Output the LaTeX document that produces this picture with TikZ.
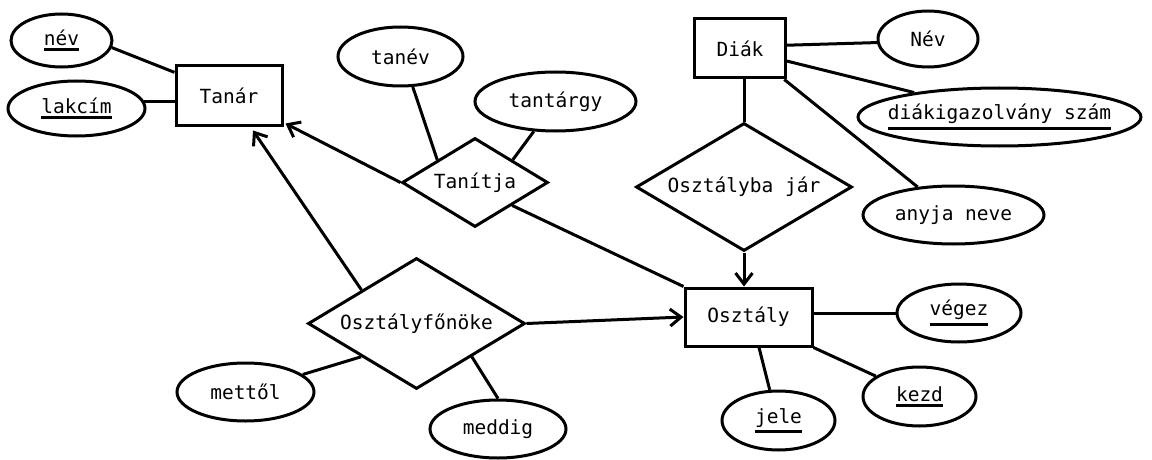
\documentclass[tikz,border=0pt]{standalone}
\usepackage{fontspec}
\setmainfont{DejaVu Sans Mono}
\usetikzlibrary{shapes.geometric,arrows.meta}
\newcommand\keyattr[1]{\vtop{\hbox{#1}\kern2.5pt\hrule height 3pt}}
\begin{document}
\begin{tikzpicture}[x=1pt,y=-1pt,line width=3pt,
 every node/.style={font=\fontsize{19.5pt}{23pt}\selectfont},
 ent/.style={draw,rectangle,inner sep=0pt},
 attr/.style={draw,ellipse,inner sep=0pt},
 rel/.style={draw,diamond,inner sep=0pt},
 arr/.style={-{Straight Barb[length=11pt,width=17pt]}},
]
\useasboundingbox (0,0) rectangle (1152,460);
% entities
\node[ent,minimum width=106pt,minimum height=59pt,label=center:Tanár] (tanar) at (229,95.5) {};
\node[ent,minimum width=91pt,minimum height=59pt,label=center:Diák] (diak) at (740,48.5) {};
\node[ent,minimum width=127pt,minimum height=58pt,label=center:Osztály] (osztaly) at (748.5,317) {};
% relationships
\node[rel,minimum width=146pt,minimum height=89pt,label=center:Tanítja] (tanitja) at (475,182.5) {};
\node[rel,minimum width=216pt,minimum height=128pt,label=center:Osztályba jár] (oj) at (744,187) {};
\node[rel,minimum width=217pt,minimum height=131pt,label=center:Osztályfőnöke] (ofo) at (416.5,323.5) {};
% attributes
\node[attr,minimum width=101pt,minimum height=53pt,label=center:{\keyattr{név}}] (nev) at (61.5,40.5) {};
\node[attr,minimum width=137pt,minimum height=55pt,label=center:{\keyattr{lakcím}}] (lakcim) at (76.5,108.5) {};
\node[attr,minimum width=125pt,minimum height=59pt,label=center:tanév] (tanev) at (400.5,56.5) {};
\node[attr,minimum width=161pt,minimum height=59pt,label=center:tantárgy] (tantargy) at (555.5,101.5) {};
\node[attr,minimum width=100pt,minimum height=56pt,label=center:Név] (nev2) at (928,39) {};
\node[attr,minimum width=283pt,minimum height=58pt,label=center:{\keyattr{diákigazolvány szám}}] (dig) at (999.5,117) {};
\node[attr,minimum width=181pt,minimum height=58pt,label=center:anyja neve] (anyja) at (953.5,215) {};
\node[attr,minimum width=124pt,minimum height=58pt,label=center:{\keyattr{végez}}] (vegez) at (959,313) {};
\node[attr,minimum width=113pt,minimum height=59pt,label=center:{\keyattr{kezd}}] (kezd) at (919.5,396.5) {};
\node[attr,minimum width=113pt,minimum height=59pt,label=center:{\keyattr{jele}}] (jele) at (778.5,420.5) {};
\node[attr,minimum width=137pt,minimum height=58pt,label=center:mettől] (mettol) at (245.5,392) {};
\node[attr,minimum width=136pt,minimum height=58pt,label=center:meddig] (meddig) at (498,429) {};
% connectors
\draw (nev.-8) -- (tanar.157);
\draw (lakcim.6) -- (lakcim.6 -| tanar.west);
\draw (tanev.-68) -- (tanitja.149);
\draw (tantargy.-126) -- (tanitja.31);
\draw[arr] (tanitja.west) -- ([xshift=2pt,yshift=3pt]tanar.south east);
\draw (tanitja.south east) -- (osztaly.north west);
\draw (diak.4) -- (nev2.184);
\draw (diak.-15) -- (dig.164);
\draw (diak.-35) -- (anyja.142);
\draw (oj.north) -- (oj.north |- diak.south);
\draw[arr] (oj.south) -- (oj.south |- osztaly.north);
\draw (vegez.west -| osztaly.east) -- (vegez.west);
\draw (osztaly.south east) -- (kezd.155);
\draw (osztaly.-71) -- (jele.106);
\draw[arr] (ofo.east) -- (osztaly.west);
\draw[arr] (ofo.north west) -- ([xshift=24pt,yshift=-4pt]tanar.south);
\draw (mettol.17) -- (ofo.211);
\draw (meddig.north) -- (ofo.-31);
\end{tikzpicture}
\end{document}
